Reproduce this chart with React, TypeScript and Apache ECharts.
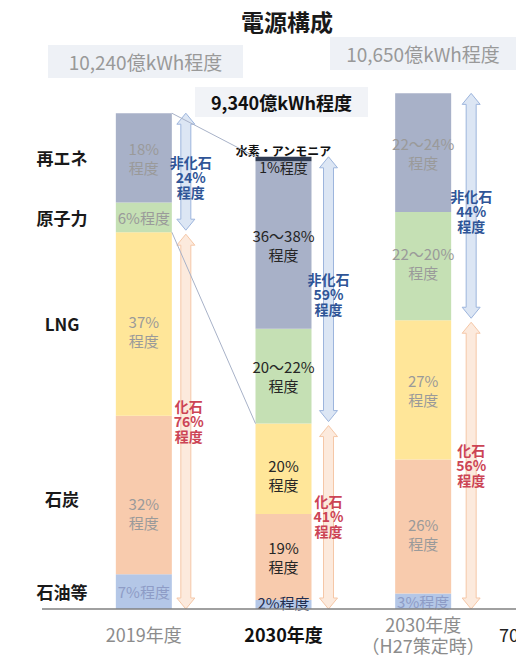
import React, { useEffect, useRef } from 'react';
import * as echarts from 'echarts';

const categories = ['2019年度', '2030年度', '2030年度\n（H27策定時）'];
const totals = [10240, 9340, 10650];
const totalLabels = ['10,240億kWh程度', '9,340億kWh程度', '10,650億kWh程度'];

const sourceNames = ['石油等', '石炭', 'LNG', '原子力', '再エネ', '水素・アンモニア'];
const oilPct = [7, 2, 3];
const coalPct = [32, 19, 26];
const lngPct = [37, 20, 27];
const nuclearPct = [6, 21, 21];
const renewablePct = [18, 37, 23];
const hydrogenPct = [0, 1, 0];

const oilLabels = ['7%程度', '2%程度', '3%程度'];
const coalLabels = ['32%\n程度', '19%\n程度', '26%\n程度'];
const lngLabels = ['37%\n程度', '20%\n程度', '27%\n程度'];
const nuclearLabels = ['6%程度', '20～22%\n程度', '22～20%\n程度'];
const renewableLabels = ['18%\n程度', '36～38%\n程度', '22～24%\n程度'];
const hydrogenLabels = ['', '{t|水素・アンモニア}\n{p|1%程度}', ''];

const nonFossilPct = [24, 59, 44];
const fossilPct = [76, 41, 56];

const FONT = '"Noto Sans CJK JP", "Noto Sans", sans-serif';
const colors = ['#B4C7E7', '#F8CBAD', '#FFE699', '#C5E0B4', '#A8B1C8', '#2F3B52'];
const labelOffsets: number[][] = [
  [0, -2, 0],
  [18, 0, 8],
  [7, 6, 0],
  [0, 0, -3],
  [0, 0, 0],
  [0, 0, 0],
];

const pctSeries = [oilPct, coalPct, lngPct, nuclearPct, renewablePct, hydrogenPct];
const labelSeries = [oilLabels, coalLabels, lngLabels, nuclearLabels, renewableLabels, hydrogenLabels];

const BAR_W = 56;

export default function App() {
  const ref = useRef<HTMLDivElement>(null);
  useEffect(() => {
    if (!ref.current) return;
    const chart = echarts.init(ref.current, undefined, { renderer: 'svg' });
    const series = pctSeries.map((pcts, si) => ({
      name: sourceNames[si],
      type: 'bar',
      stack: 'total',
      barWidth: BAR_W,
      itemStyle: { color: colors[si] },
      data: pcts.map((p, ci) => {
        const isMain = ci === 1;
        let color = isMain ? '#262626' : '#9a9a9a';
        if (si === 0) color = isMain ? '#1F2D50' : '#8e9cc6';
        const lbl = labelSeries[si][ci];
        return {
          value: (totals[ci] * p) / 100,
          label: {
            show: lbl !== '',
            position: 'inside',
            formatter: lbl,
            color,
            fontSize: 15,
            lineHeight: 19,
            fontFamily: FONT,
            offset: [0, labelOffsets[si][ci]],
            rich: {
              t: { fontSize: 12, fontWeight: 'bold', color: '#111', lineHeight: 15, fontFamily: FONT },
              p: { fontSize: 14, color: '#222', lineHeight: 18, fontFamily: FONT },
            },
          },
        };
      }),
    }));

    chart.setOption({
      animation: false,
      grid: { left: 74, right: 23, top: 28, bottom: 46 },
      xAxis: {
        type: 'category',
        data: categories,
        axisLine: { show: false },
        axisTick: { show: false },
        axisLabel: {
          margin: 25,
          verticalAlign: 'middle',
          formatter: (v: string, i: number) =>
            v
              .split('\n')
              .map((s) => (i === 1 ? '{b|' + s + '}' : '{g|' + s + '}'))
              .join('\n'),
          rich: {
            b: { fontSize: 18, fontWeight: 'bold', color: '#111', fontFamily: FONT, lineHeight: 21 },
            g: { fontSize: 18, color: '#8c8c8c', fontFamily: FONT, lineHeight: 21 },
          },
        },
      },
      yAxis: { type: 'value', min: 0, max: 12000, show: false },
      series,
    });

    const px = (ci: number, v: number) => chart.convertToPixel({ gridIndex: 0 }, [ci, v]) as number[];
    const cum = (ci: number, upto: number) => {
      let s = 0;
      for (let k = 0; k < upto; k++) s += (totals[ci] * pctSeries[k][ci]) / 100;
      return s;
    };
    const graphics: any[] = [];
    const y0 = px(0, 0)[1];

    graphics.push({
      type: 'text', x: 287, y: 21, z: 100,
      style: { text: '電源構成', font: `bold 23px ${FONT}`, fill: '#1a1a1a', align: 'center', verticalAlign: 'middle' },
    });
    graphics.push({ type: 'line', z: 100, shape: { x1: 42, y1: y0, x2: 516, y2: y0 }, style: { stroke: '#808080', lineWidth: 1.5 } });
    graphics.push({
      type: 'text', x: 499, y: 634, z: 100,
      style: { text: '70', font: `18px ${FONT}`, fill: '#222', align: 'left', verticalAlign: 'middle' },
    });

    const boxes = [
      { cx: 145.5, cy: 61.5, w: 195, h: 33, bold: false, fill: '#EEF1F6', color: '#999999' },
      { cx: 281.5, cy: 102, w: 173, h: 30, bold: true, fill: '#F1F3F7', color: '#111111' },
      { cx: 423, cy: 53.5, w: 186, h: 33, bold: false, fill: '#EEF1F6', color: '#999999' },
    ];
    boxes.forEach((b, i) => {
      graphics.push({ type: 'rect', z: 90, shape: { x: b.cx - b.w / 2, y: b.cy - b.h / 2, width: b.w, height: b.h }, style: { fill: b.fill } });
      graphics.push({
        type: 'text', x: b.cx, y: b.cy, z: 100,
        style: { text: totalLabels[i], font: `${b.bold ? 'bold ' : ''}${b.bold ? 18 : 19}px ${FONT}`, fill: b.color, align: 'center', verticalAlign: 'middle' },
      });
    });

    for (let si = 0; si < 5; si++) {
      const mid = cum(0, si) + (totals[0] * pctSeries[si][0]) / 200;
      const y = px(0, mid)[1] + (si === 1 ? 4 : 0);
      graphics.push({
        type: 'text', x: 62, y, z: 100,
        style: { text: sourceNames[si], font: `bold 17px ${FONT}`, fill: '#1a1a1a', align: 'center', verticalAlign: 'middle' },
      });
    }

    const b0top = px(0, totals[0]);
    const b1top = px(1, totals[1]);
    const b0nf = px(0, cum(0, 3));
    const b1nf = px(1, cum(1, 3));
    [[b0top, b1top], [b0nf, b1nf]].forEach(([a, b]) => {
      graphics.push({
        type: 'line', z: 95,
        shape: { x1: a[0] + BAR_W / 2, y1: a[1], x2: b[0] - BAR_W / 2, y2: b[1] },
        style: { stroke: '#A8B2C8', lineWidth: 1 },
      });
    });

    const arrowPts = (cx: number, y1: number, y2: number) => {
      const hw = 9, sw = 5, hl = 11;
      return [
        [cx, y1], [cx + hw, y1 + hl], [cx + sw, y1 + hl], [cx + sw, y2 - hl], [cx + hw, y2 - hl],
        [cx, y2], [cx - hw, y2 - hl], [cx - sw, y2 - hl], [cx - sw, y1 + hl], [cx - hw, y1 + hl],
      ];
    };
    const arrowOffsets = [14, 17, 20];
    for (let ci = 0; ci < 3; ci++) {
      const top = px(ci, totals[ci]);
      const bnd = px(ci, cum(ci, 3))[1];
      const cx = top[0] + BAR_W / 2 + arrowOffsets[ci];
      graphics.push({
        type: 'polygon', z: 80, shape: { points: arrowPts(cx, top[1], bnd - 2) },
        style: { fill: '#DCE6F4', stroke: '#9DB5DD', lineWidth: 1 },
      });
      graphics.push({
        type: 'polygon', z: 80, shape: { points: arrowPts(cx, bnd + 2, y0) },
        style: { fill: '#FCEADD', stroke: '#F5C7A7', lineWidth: 1 },
      });
      graphics.push({
        type: 'text', x: cx + (ci === 0 ? 5 : 0), y: (top[1] + bnd) / 2 + 4, z: 100,
        style: {
          text: `非化石\n${nonFossilPct[ci]}%\n程度`, font: `bold 14px ${FONT}`, lineHeight: 15,
          fill: '#2F5597', align: 'center', verticalAlign: 'middle',
        },
      });
      graphics.push({
        type: 'text', x: cx + (ci === 0 ? 3 : 0), y: (bnd + y0) / 2, z: 100,
        style: {
          text: `化石\n${fossilPct[ci]}%\n程度`, font: `bold 14px ${FONT}`, lineHeight: 15,
          fill: '#CC4455', align: 'center', verticalAlign: 'middle',
        },
      });
    }

    chart.setOption({ graphic: graphics });
    return () => chart.dispose();
  }, []);
  return <div ref={ref} style={{ position: 'fixed', left: 0, top: 0, width: 516, height: 655, background: '#fff' }} />;
}
